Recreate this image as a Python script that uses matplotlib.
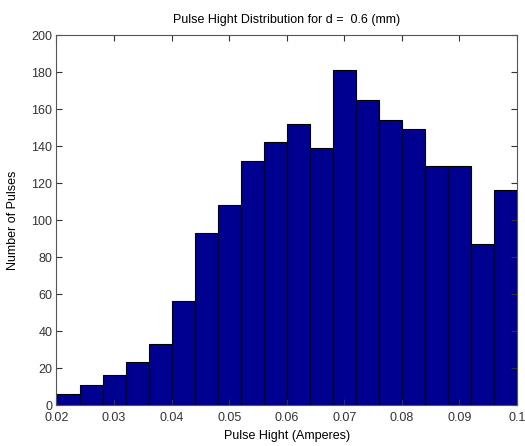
import numpy as np
import matplotlib
matplotlib.use("Agg")
import matplotlib.pyplot as plt

# histogram counts, bins 0.02..0.1 width 0.004
bin_edges = [0.020, 0.024, 0.028, 0.032, 0.036, 0.040, 0.044, 0.048, 0.052, 0.056,
             0.060, 0.064, 0.068, 0.072, 0.076, 0.080, 0.084, 0.088, 0.092, 0.096, 0.100]
counts = [6, 11, 16, 23, 33, 56, 93, 108, 132, 142,
          152, 139, 181, 165, 154, 149, 129, 129, 87, 116]

x_ticks = [0.02, 0.03, 0.04, 0.05, 0.06, 0.07, 0.08, 0.09, 0.1]
x_tick_labels = ["0.02", "0.03", "0.04", "0.05", "0.06", "0.07", "0.08", "0.09", "0.1"]
y_ticks = [0, 20, 40, 60, 80, 100, 120, 140, 160, 180, 200]

plt.rcParams["font.family"] = ["Liberation Sans", "DejaVu Sans"]

fig = plt.figure(figsize=(5.25, 4.46), dpi=100)
ax = fig.add_axes([0.1076, 0.0919, 0.877, 0.8296])

left = np.array(bin_edges[:-1])
widths = np.diff(bin_edges)
ax.bar(left, counts, width=widths, align="edge", color="#000090",
       edgecolor="black", linewidth=0.8)

ax.set_xlim(0.02, 0.1)
ax.set_ylim(0, 200)
ax.set_xticks(x_ticks)
ax.set_xticklabels(x_tick_labels)
ax.set_yticks(y_ticks)
ax.tick_params(direction="in", top=True, right=True, length=4,
               labelsize=9, colors="#333333", width=0.8)
ax.tick_params(axis="x", pad=5)
ax.tick_params(axis="y", pad=3)
for s in ax.spines.values():
    s.set_color("#555555")
    s.set_linewidth(0.8)

ax.set_title("Pulse Hight Distribution for d =  0.6 (mm)", fontsize=9, pad=9)
ax.set_xlabel("Pulse Hight (Amperes)", fontsize=9, labelpad=4)
ax.set_ylabel("Number of Pulses", fontsize=9, labelpad=9)

fig.savefig("out.png", dpi=100)
